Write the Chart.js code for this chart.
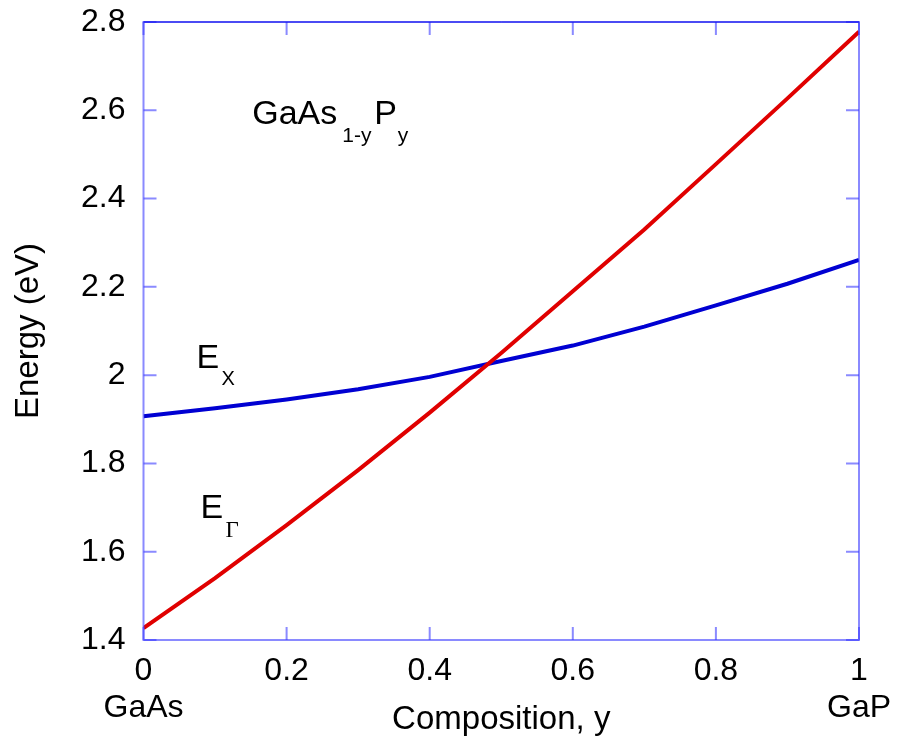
<!DOCTYPE html>
<html>
<head>
<meta charset="utf-8">
<script src="https://cdn.jsdelivr.net/npm/chart.js@4"></script>
<style>
  body { margin: 0; background: #fff; }
  #wrap { width: 903px; height: 744px; }
</style>
</head>
<body>
<div id="wrap"><canvas id="bandChart" width="903" height="744"></canvas></div>
<script>
// Composition y (GaAs -> GaP) and band energies in eV
const composition = [0, 0.1, 0.2, 0.3, 0.4, 0.5, 0.6, 0.7, 0.8, 0.9, 1.0];
const eGamma = [1.427, 1.54, 1.66, 1.785, 1.915, 2.05, 2.19, 2.33, 2.478, 2.627, 2.778];
const eX = [1.907, 1.925, 1.945, 1.968, 1.996, 2.032, 2.067, 2.11, 2.158, 2.207, 2.261];

const xTickValues = [0, 0.2, 0.4, 0.6, 0.8, 1];
const xTickLabels = ['0', '0.2', '0.4', '0.6', '0.8', '1'];
const xEndNames = ['GaAs', '', '', '', '', 'GaP'];
const yTickValues = [1.4, 1.6, 1.8, 2.0, 2.2, 2.4, 2.6, 2.8];
const yTickLabels = ['1.4', '1.6', '1.8', '2', '2.2', '2.4', '2.6', '2.8'];

const SANS = "'Liberation Sans', Arial, sans-serif";
const frameColor = 'rgba(60, 60, 255, 0.6)';

function toPoints(xs, ys) {
    return xs.map((x, i) => ({ x: x, y: ys[i] }));
}

// frame, inward ticks on all four sides, and the text labels inside the plot
const framePlugin = {
    id: 'frame',
    afterDraw(chart) {
        const { ctx, chartArea: a, scales: { x, y } } = chart;
        const tl = 13;
        ctx.save();
        ctx.strokeStyle = frameColor;
        ctx.lineWidth = 2;
        ctx.strokeRect(a.left, a.top, a.right - a.left, a.bottom - a.top);
        ctx.beginPath();
        xTickValues.forEach(v => {
            const px = x.getPixelForValue(v);
            ctx.moveTo(px, a.bottom); ctx.lineTo(px, a.bottom - tl);
            ctx.moveTo(px, a.top); ctx.lineTo(px, a.top + tl);
        });
        yTickValues.forEach(v => {
            const py = y.getPixelForValue(v);
            ctx.moveTo(a.left, py); ctx.lineTo(a.left + tl, py);
            ctx.moveTo(a.right, py); ctx.lineTo(a.right - tl, py);
        });
        ctx.stroke();
        ctx.strokeStyle = 'rgba(0, 0, 230, 0.9)';
        ctx.lineWidth = 1;
        ctx.beginPath();
        ctx.moveTo(a.left, a.top); ctx.lineTo(a.right, a.top);
        ctx.stroke();

        ctx.fillStyle = '#000';
        ctx.textBaseline = 'alphabetic';
        ctx.textAlign = 'left';

        // GaAs(1-y)P(y)
        let px = x.getPixelForValue(0.152);
        let py = y.getPixelForValue(2.569);
        ctx.font = '34px ' + SANS;
        ctx.fillText('GaAs', px, py);
        ctx.font = '21px ' + SANS;
        ctx.fillText('1-y', px + 90, py + 18.5);
        ctx.font = '34px ' + SANS;
        ctx.fillText('P', px + 122, py);
        ctx.font = '21px ' + SANS;
        ctx.fillText('y', px + 145.5, py + 18.5);

        // E_X
        px = x.getPixelForValue(0.074);
        py = y.getPixelForValue(2.0155);
        ctx.font = '34px ' + SANS;
        ctx.fillText('E', px, py);
        ctx.font = '20px ' + SANS;
        ctx.fillText('X', px + 25, py + 16.5);

        // E_Gamma
        px = x.getPixelForValue(0.0797);
        py = y.getPixelForValue(1.676);
        ctx.font = '34px ' + SANS;
        ctx.fillText('E', px, py);
        ctx.font = "23px 'Liberation Serif', 'Times New Roman', serif";
        ctx.fillText('\u0393', px + 25, py + 18.5);
        ctx.restore();
    }
};

new Chart(document.getElementById('bandChart'), {
    type: 'line',
    data: {
        datasets: [{
            label: 'E_Gamma',
            data: toPoints(composition, eGamma),
            borderColor: '#e00000',
            borderWidth: 4,
            pointRadius: 0,
            tension: 0,
            fill: false
        }, {
            label: 'E_X',
            data: toPoints(composition, eX),
            borderColor: '#0000d2',
            borderWidth: 4,
            pointRadius: 0,
            tension: 0,
            fill: false
        }]
    },
    options: {
        responsive: false,
        animation: false,
        events: [],
        layout: { padding: { top: 22, right: 44, left: 0, bottom: 0 } },
        plugins: {
            legend: { display: false },
            tooltip: { enabled: false }
        },
        scales: {
            x: {
                type: 'linear',
                min: 0,
                max: 1,
                afterFit: s => { s.height = 104; s.paddingLeft = 0; s.paddingRight = 0; },
                afterBuildTicks: s => { s.ticks = xTickValues.map(v => ({ value: v })); },
                grid: { display: false, drawTicks: false },
                border: { display: false },
                ticks: {
                    padding: 13,
                    maxRotation: 0,
                    autoSkip: false,
                    color: '#000',
                    font: { family: SANS, size: 32, lineHeight: 1.15 },
                    callback: (v) => {
                        const i = xTickValues.findIndex(t => Math.abs(t - v) < 1e-6);
                        if (i < 0) return '';
                        return xEndNames[i] ? [xTickLabels[i], xEndNames[i]] : xTickLabels[i];
                    }
                },
                title: {
                    display: true,
                    text: 'Composition, y',
                    color: '#000',
                    font: { family: SANS, size: 33, lineHeight: 1.2 },
                    padding: { top: 0, bottom: 4 }
                }
            },
            y: {
                type: 'linear',
                min: 1.4,
                max: 2.8,
                afterFit: s => { s.width = 143.5; s.paddingTop = 0; s.paddingBottom = 0; },
                afterBuildTicks: s => { s.ticks = yTickValues.map(v => ({ value: v })); },
                grid: { display: false, drawTicks: false },
                border: { display: false },
                ticks: {
                    padding: 18,
                    autoSkip: false,
                    color: '#000',
                    font: { family: SANS, size: 32 },
                    callback: (v) => {
                        const i = yTickValues.findIndex(t => Math.abs(t - v) < 1e-6);
                        return i < 0 ? '' : yTickLabels[i];
                    }
                },
                title: {
                    display: true,
                    text: 'Energy (eV)',
                    color: '#000',
                    font: { family: SANS, size: 33, lineHeight: 1.2 },
                    padding: { top: 9, bottom: 0 }
                }
            }
        }
    },
    plugins: [framePlugin]
});
</script>
</body>
</html>
